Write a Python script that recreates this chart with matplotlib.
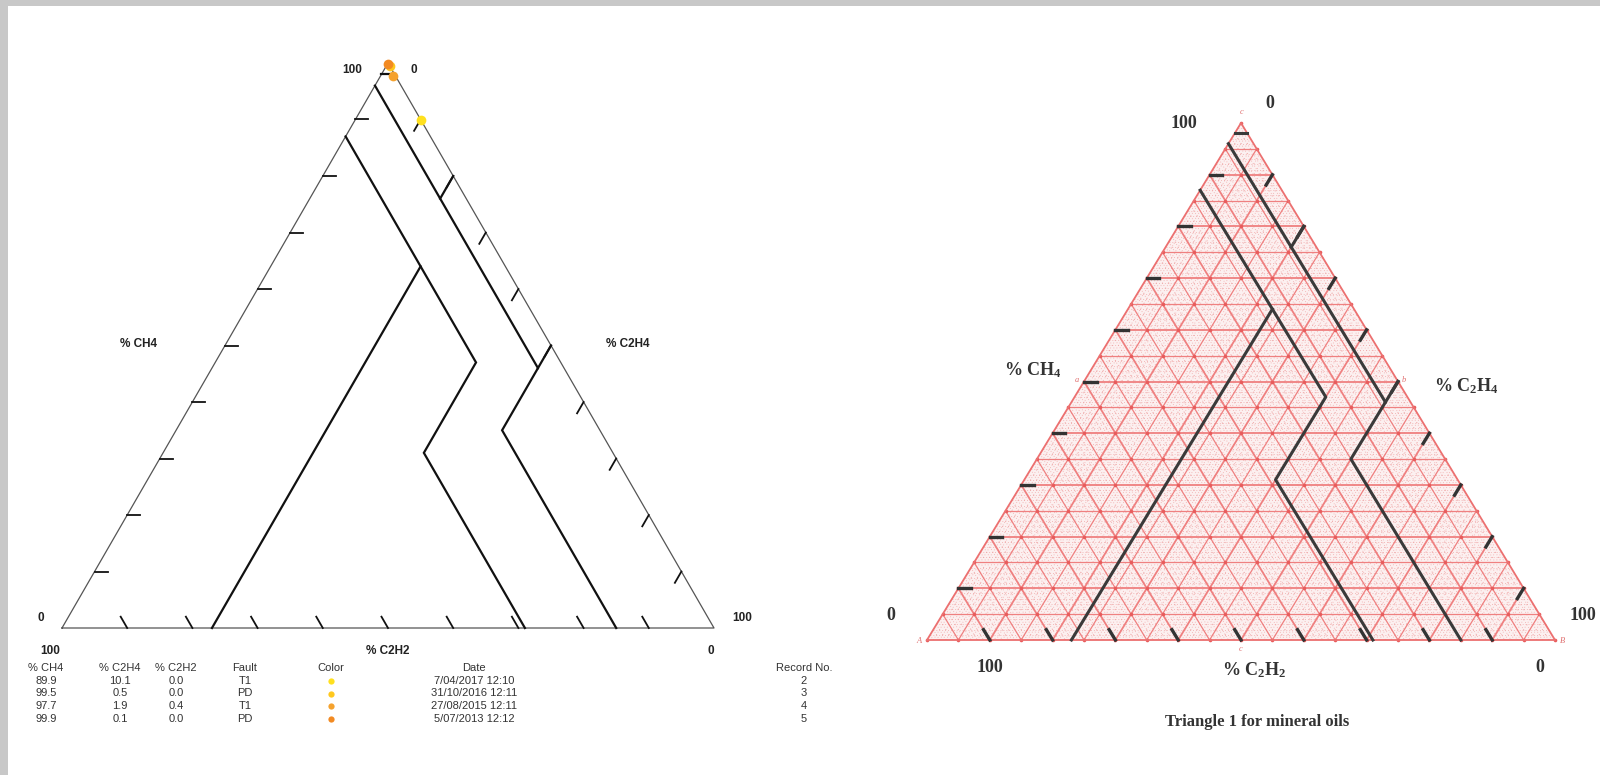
import numpy as np
import matplotlib.pyplot as plt
from matplotlib.transforms import Affine2D

# gas records shown in the table and plotted in the left triangle
ch4 = [89.9, 99.5, 97.7, 99.9]
c2h4 = [10.1, 0.5, 1.9, 0.1]
c2h2 = [0.0, 0.0, 0.4, 0.0]
faults = ["T1", "PD", "T1", "PD"]
dates = ["7/04/2017 12:10", "31/10/2016 12:11", "27/08/2015 12:11", "5/07/2013 12:12"]
records = [2, 3, 4, 5]
point_colors = ["#FFE01E", "#FFC81E", "#F5A22E", "#F28A22"]

# Duval triangle 1 zone boundaries as (C2H4 %, CH4 %) points
zone_lines = [
    [(2, 98), (0, 98)],
    [(0, 96), (50, 46), (50, 35), (85, 0)],
    [(20, 80), (20, 76)],
    [(50, 50), (50, 46)],
    [(0, 87), (40, 47), (40, 31), (71, 0)],
    [(23, 64), (23, 0)],
]
tick_vals = list(range(10, 100, 10))
grid_vals = list(range(5, 100, 5))
fine_vals = [v for v in range(1, 100) if v % 5]

# corners (C2H2=100, C2H4=100, CH4=100) in pixels
left_tri = [(62, 628), (714, 628), (388, 63)]
right_tri = [(927, 640), (1555, 640), (1241, 123)]

fig = plt.figure(figsize=(16, 7.75), dpi=100)
fig.patch.set_facecolor("#c8c8c8")
ax = fig.add_axes([0, 0, 1, 1])
ax.set_xlim(0, 1600)
ax.set_ylim(775, 0)
ax.axis("off")
ax.add_patch(plt.Rectangle((8, 6), 1600, 800, facecolor="white", edgecolor="none", zorder=0))


def tern(corners):
    (ax_, ay), (bx, by), (cx, cy) = corners
    m = np.array([[(bx - ax_) / 100, (cx - ax_) / 100, ax_],
                  [(by - ay) / 100, (cy - ay) / 100, ay],
                  [0, 0, 1]])
    return Affine2D(m) + ax.transData


def ticks(tr, length, **kw):
    for v in tick_vals:
        # CH4 axis (left edge), C2H2 axis (bottom), C2H4 axis (right)
        ax.plot([0, length], [v, v], transform=tr, **kw)
        ax.plot([100 - v, 100 - v - length], [0, length], transform=tr, **kw)
        ax.plot([v, v], [100 - v, 100 - v - length], transform=tr, **kw)


sans = ["Liberation Sans", "DejaVu Sans"]
narrow = ["Liberation Sans Narrow", "Liberation Sans", "DejaVu Sans"]
serif = ["Liberation Serif", "DejaVu Serif"]
plt.rcParams["mathtext.fontset"] = "custom"
plt.rcParams["mathtext.rm"] = "Liberation Serif:bold"
plt.rcParams["mathtext.it"] = "Liberation Serif:bold"

# ---------------- left triangle ----------------
trL = tern(left_tri)
ax.plot([0, 100, 0, 0], [0, 0, 100, 0], transform=trL, color="#555555", lw=0.9)
ticks(trL, 2, color="#111111", lw=1.3)
for seg in zone_lines:
    xs, ys = zip(*seg)
    ax.plot(xs, ys, transform=trL, color="#111111", lw=1.6, solid_joinstyle="miter")
for i in range(len(ch4)):
    ax.plot(c2h4[i], ch4[i], "o", transform=trL, color=point_colors[i], ms=7, mec="none")

lab = dict(fontsize=8.5, fontweight="bold", family=sans, color="#222222", ha="center", va="center")
ax.text(352, 70, "100", **lab)
ax.text(414, 70, "0", **lab)
ax.text(138, 344, "% CH4", **lab)
ax.text(628, 344, "% C2H4", **lab)
ax.text(41, 618, "0", **lab)
ax.text(742, 618, "100", **lab)
ax.text(50, 651, "100", **lab)
ax.text(388, 651, "% C2H2", **lab)
ax.text(711, 651, "0", **lab)

# table of records
tab = dict(fontsize=8, family=narrow, color="#333333", ha="center", va="center")
col_x = [46, 120, 176, 245, 331, 474, 804]
headers = ["% CH4", "% C2H4", "% C2H2", "Fault", "Color", "Date", "Record No."]
for x, h in zip(col_x, headers):
    ax.text(x, 668, h, **tab)
for i in range(len(ch4)):
    y = 681 + i * 12.5
    vals = [f"{ch4[i]:.1f}", f"{c2h4[i]:.1f}", f"{c2h2[i]:.1f}", faults[i], None, dates[i], str(records[i])]
    for x, v in zip(col_x, vals):
        if v is None:
            ax.plot(x, y, "o", color=point_colors[i], ms=4.5, mec="none")
        else:
            ax.text(x, y, v, **tab)

# ---------------- right triangle (scanned IEC figure) ----------------
trR = tern(right_tri)
ax.fill([0, 100, 0], [0, 0, 100], transform=trR, color="#fcf0f0", lw=0)
dot = dict(color="#f0a8a8", lw=0.6, ls=(0, (1, 2.5)))
for v in fine_vals:
    ax.plot([0, 100 - v], [v, v], transform=trR, **dot)
    ax.plot([v, v], [0, 100 - v], transform=trR, **dot)
    ax.plot([0, v], [v, 0], transform=trR, **dot)
for v in grid_vals:
    lw = 1.3 if v % 10 == 0 else 0.9
    ax.plot([0, 100 - v], [v, v], transform=trR, color="#ef8080", lw=lw)
    ax.plot([v, v], [0, 100 - v], transform=trR, color="#ef8080", lw=lw)
    ax.plot([0, v], [v, 0], transform=trR, color="#ef8080", lw=lw)
nodes = [(x, y) for x in range(0, 101, 5) for y in range(0, 101, 5) if x + y <= 100]
nx, ny = zip(*nodes)
ax.plot(nx, ny, "o", transform=trR, color="#e85c5c", ms=2.6, mec="none")
ax.plot([0, 100, 0, 0], [0, 0, 100, 0], transform=trR, color="#ec7070", lw=1.3)
ticks(trR, 2, color="#333333", lw=2.4)
for seg in zone_lines:
    xs, ys = zip(*seg)
    ax.plot(xs, ys, transform=trR, color="#3a3a3a", lw=2.2)

red = dict(fontsize=6, family=serif, style="italic", color="#e07070", ha="center", va="center")
ax.text(1242, 112, "c", **red)
ax.text(919, 641, "A", **red)
ax.text(1562, 641, "B", **red)
ax.text(1077, 380, "a", **red)
ax.text(1404, 380, "b", **red)
ax.text(1241, 649, "c", **red)

slab = dict(fontsize=13, fontweight="bold", family=serif, color="#333333", ha="center", va="center")
ax.text(1184, 124, "100", **slab)
ax.text(1270, 104, "0", **slab)
ax.text(1033, 370, r"% CH$_4$", **slab)
ax.text(1466, 386, r"% C$_2$H$_4$", **slab)
ax.text(891, 616, "0", **slab)
ax.text(1596, 616, "100", fontsize=13, fontweight="bold", family=serif, color="#333333",
        ha="right", va="center")
ax.text(990, 668, "100", **slab)
ax.text(1254, 670, r"% C$_2$H$_2$", **slab)
ax.text(1540, 668, "0", **slab)
ax.text(1257, 722, "Triangle 1 for mineral oils", fontsize=12, fontweight="bold",
        family=serif, color="#333333", ha="center", va="center")

fig.savefig("out.png", dpi=100, facecolor=fig.get_facecolor())
